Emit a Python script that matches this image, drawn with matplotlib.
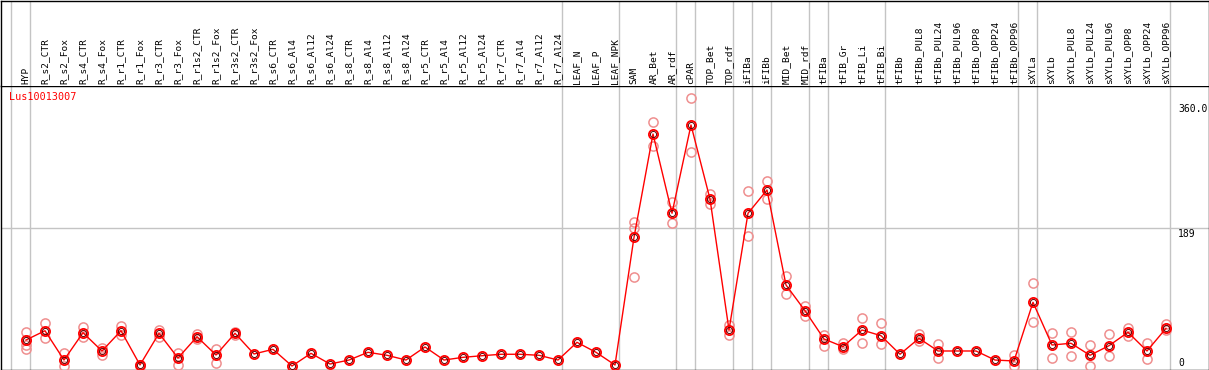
import matplotlib
matplotlib.use("Agg")
import matplotlib.pyplot as plt
from matplotlib.transforms import blended_transform_factory

categories = ["HYP", "R_s2_CTR", "R_s2_Fox", "R_s4_CTR", "R_s4_Fox", "R_r1_CTR", "R_r1_Fox",
              "R_r3_CTR", "R_r3_Fox", "R_r1s2_CTR", "R_r1s2_Fox", "R_r3s2_CTR", "R_r3s2_Fox",
              "R_s6_CTR", "R_s6_Al4", "R_s6_Al12", "R_s6_Al24", "R_s8_CTR", "R_s8_Al4",
              "R_s8_Al12", "R_s8_Al24", "R_r5_CTR", "R_r5_Al4", "R_r5_Al12", "R_r5_Al24",
              "R_r7_CTR", "R_r7_Al4", "R_r7_Al12", "R_r7_Al24", "LEAF_N", "LEAF_P", "LEAF_NPK",
              "SAM", "AR_Bet", "AR_rdf", "cPAR", "TOP_Bet", "TOP_rdf", "iFIBa", "iFIBb",
              "MID_Bet", "MID_rdf", "tFIBa", "tFIB_Gr", "tFIB_Li", "tFIB_Bi", "tFIBb",
              "tFIBb_PUL8", "tFIBb_PUL24", "tFIBb_PUL96", "tFIBb_OPP8", "tFIBb_OPP24",
              "tFIBb_OPP96", "sXYLa", "sXYLb", "sXYLb_PUL8", "sXYLb_PUL24", "sXYLb_PUL96",
              "sXYLb_OPP8", "sXYLb_OPP24", "sXYLb_OPP96"]

means = [35.7, 48.4, 8.2, 45.7, 20.6, 48.4, 1.4, 44.9, 11.0, 40.2, 15.1, 44.9, 16.5,
         22.9, 0.0, 17.4, 2.7, 8.2, 18.8, 14.7, 8.2, 26.1, 8.2, 11.9, 14.1,
         16.1, 16.1, 14.7, 8.2, 32.5, 18.8, 1.4,
         176.6, 318.4, 209.6, 330.8, 229.2, 49.4, 209.6, 241.6,
         111.2, 75.9, 37.1, 26.5, 49.4, 41.6, 16.1,
         38.0, 20.6, 20.6, 20.6, 8.2, 6.9,
         87.4, 28.8, 31.2, 14.7, 27.9, 46.3, 20.6, 51.7]

replicates = [[47, 36, 29, 23], [59, 39], [18, 0], [54, 40], [25, 15], [55, 42.5], [2, 0.5],
              [49, 40], [18, 2], [44, 37.5], [24, 4], [46.7, 43], [],
              [], [], [], [], [], [], [], [], [], [], [], [],
              [], [], [], [], [], [], [],
              [198, 189, 122], [334.5, 302.4], [225.5, 196], [367.4, 293.3], [235.7, 222.3],
              [56.3, 42.5], [240.2, 178.4], [253.9, 229.2],
              [123.5, 98.8], [82.8, 69.0], [42.5, 28], [31, 24], [66.3, 31.2], [59.4, 29.8], [],
              [43.5, 34.3], [30.2, 11.4], [], [], [], [15.1, 0],
              [114.3, 60.0], [44.9, 11.4], [46.3, 14.1], [28.8, 0.4], [43.5, 14.1],
              [51.7, 41.6], [31.2, 9.6], [57.2, 49.4]]

group_starts = [0, 1, 29, 32, 35, 36, 38, 39, 40, 42, 43, 46, 53, 54, 61]
ytick_values = [360, 189, 0]
ytick_labels = ["360.0", "189", "0"]
gene = "Lus10013007"

W, H = 1209, 370
fig = plt.figure(figsize=(W / 100, H / 100), dpi=100)

# pixel geometry
x0_px, step_px = 26.0, 19.0
zero_px, px_per_unit = 366.0, 0.7286
header_px = 85.5

def ix(p):
    return (p - x0_px) / step_px

def vy(p):
    return (zero_px - p) / px_per_unit

ax = fig.add_axes([0.5 / W, 0.5 / H, 1208 / W, (369.5 - header_px) / H])
hx = fig.add_axes([0.5 / W, (H - header_px) / H, 1208 / W, (header_px - 0.5) / H])

for a in (ax, hx):
    a.set_xlim(ix(0.5), ix(1208.5))
    a.set_xticks([])
    a.set_yticks([])
    for s in a.spines.values():
        s.set_color("black")
        s.set_linewidth(1.0)
hx.set_ylim(0, 1)
hx.spines["bottom"].set_visible(False)
ax.set_ylim(vy(369.5), vy(header_px))

mono = "DejaVu Sans Mono"
grid_c = "#c4c4c4"

# group separators (span header and plot)
sep_offset = -15.0 / step_px
for g in group_starts:
    ax.axvline(g + sep_offset, color=grid_c, lw=1.0, zorder=1)
    hx.axvline(g + sep_offset, color=grid_c, lw=1.0, zorder=1)

ax.axhline(189, color=grid_c, lw=1.0, zorder=1)

# category labels
htr = blended_transform_factory(hx.transData, hx.transAxes)
for i, c in enumerate(categories):
    hx.text(i, (header_px - 83.5) / header_px, c, rotation=90, ha="center", va="bottom",
            fontsize=6.8, family=mono, color="black", transform=htr)

# replicates
rx, ry = [], []
for i, reps in enumerate(replicates):
    for r in reps:
        rx.append(i)
        ry.append(r)
ax.plot(rx, ry, ls="none", marker="o", ms=6.6, mfc="none", mec="#ef8f8f", mew=1.1, zorder=3,
        clip_on=True)

xs = list(range(len(means)))
ax.plot(xs, means, color="#ff0000", lw=1.0, zorder=4)
ax.plot(xs, means, ls="none", marker="o", ms=6.6, mfc="none", mec="#ff0000", mew=1.3, zorder=5)
ax.plot(xs, means, ls="none", marker="o", ms=4.4, mfc="none", mec="#600000", mew=0.7, zorder=6)

# y labels on right
ytr = blended_transform_factory(ax.transAxes, ax.transData)
xl = (1178 - 0.5) / 1208
for v, lab in zip(ytick_values, ytick_labels):
    if v == 0:
        ax.text(xl, v, lab, ha="left", va="baseline", fontsize=7, family=mono, transform=ytr)
    else:
        ax.text(xl, v - 0.5, lab, ha="left", va="top", fontsize=7, family=mono, transform=ytr)

ax.text((9 - 0.5) / 1208, 1 - (97 - header_px) / (369.5 - header_px), gene, color="#ff0000",
        ha="left", va="center", fontsize=7.3, family=mono, transform=ax.transAxes)

fig.savefig("out.png", dpi=100)
